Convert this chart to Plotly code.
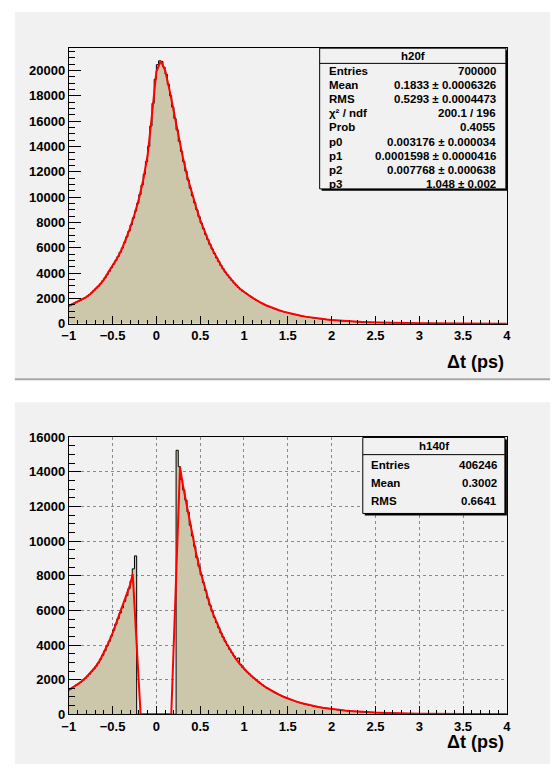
import numpy as np
import plotly.graph_objects as go

W, H = 554, 772

# ---------------- data ----------------
bin_lo, bin_hi, n_bins = -1.0, 4.0, 200

h20f_counts = [
    1450, 1530, 1620, 1700, 1770, 1850, 1960, 2050, 2170, 2300, 2450, 2620, 2790, 2950, 3150, 3380, 3600, 3870, 4140, 4420,
    4700, 4980, 5300, 5640, 5980, 6400, 6850, 7300, 7800, 8350, 8900, 9500, 10200, 10950, 11800, 12800, 14000, 15600, 17400, 19300,
    20450, 20750, 20700, 20250, 19700, 18900, 18000, 17100, 16200, 15300, 14400, 13600, 12800, 12050, 11350, 10700, 10100, 9550, 9000, 8450,
    7950, 7500, 7050, 6650, 6250, 5900, 5550, 5200, 4900, 4600, 4330, 4080, 3850, 3630, 3420, 3220, 3040, 2860, 2700, 2550,
    2450, 2330, 2210, 2090, 1980, 1870, 1770, 1680, 1590, 1500, 1420, 1350, 1280, 1210, 1150, 1090, 1030, 980, 930, 880,
    835, 790, 750, 710, 675, 640, 605, 575, 545, 515, 490, 465, 440, 418, 396, 375, 356, 337, 320, 303,
    287, 272, 258, 245, 232, 220, 208, 197, 187, 177, 168, 159, 151, 143, 135, 128, 121, 115, 109, 103,
    98, 93, 88, 83, 79, 75, 71, 67, 64, 60, 57, 54, 51, 49, 46, 44, 41, 39, 37, 35,
    33, 31, 30, 28, 27, 25, 24, 23, 21, 20, 19, 18, 17, 16, 15, 15, 14, 13, 12, 12,
    11, 11, 10, 10, 9, 9, 8, 8, 7, 7, 7, 6, 6, 6, 5, 5, 5, 5, 4, 4,
]

h140f_counts = [
    1430, 1520, 1600, 1680, 1760, 1860, 1960, 2080, 2200, 2320, 2470, 2620, 2780, 2960, 3180, 3410, 3660, 3950, 4220, 4520,
    4850, 5200, 5520, 5850, 6150, 6520, 6850, 7250, 7700, 8400, 9150,
    0, 0, 0, 0, 0, 0, 0, 0, 0, 0, 0, 0, 0, 0, 0, 0, 0, 0,
    15250,
    14300, 13560, 12960, 12370, 11680, 10920, 10300, 9700, 9050, 8550,
    8050, 7600, 7150, 6700, 6300, 5950, 5600, 5300, 5000, 4700, 4450, 4200, 3980, 3750, 3560, 3370, 3200, 3250, 2880, 2700,
    2560, 2440, 2320, 2200, 2090, 1980, 1880, 1780, 1690, 1600, 1520, 1440, 1360, 1290, 1220, 1160, 1100, 1040, 985, 935, 885,
    840, 795, 752, 712, 673, 637, 602, 570, 539, 510, 482, 456, 431, 408, 386, 365, 345, 326, 309, 292,
    276, 261, 247, 233, 220, 208, 197, 186, 176, 166, 157, 149, 141, 133, 126, 119, 112, 106, 100, 95,
    90, 85, 80, 76, 72, 68, 64, 61, 57, 54, 51, 48, 46, 43, 41, 39, 37, 35, 33,
    31, 29, 28, 26, 25, 23, 22, 21, 20, 19, 18, 17, 16, 15, 14, 13, 13, 12, 11, 11,
    10, 10, 9, 9, 8, 8, 7, 7, 7, 6, 6, 6, 5, 5, 5, 5, 4, 4, 4, 4,
]

# fit curve of h20f, sampled every 0.05 from -1 to 4
fit_top_x = np.round(np.linspace(-1.0, 4.0, 101), 3)
fit_top_y = [
    1400, 1560, 1730, 1890, 2100, 2370, 2700, 3050, 3480, 4000, 4560, 5140, 5800, 6620, 7550, 8620, 9850, 11350, 13300, 16500,
    19900, 20750, 20000, 18450, 16650, 14850, 13200, 11700, 10400, 9270, 8200, 7270, 6450, 5720, 5050, 4460, 3960, 3520, 3130, 2780,
    2500, 2270, 2035, 1820, 1635, 1460, 1315, 1180, 1060, 955, 858, 770, 692, 622, 560, 502, 452, 407, 365, 328,
    295, 265, 238, 214, 192, 172, 155, 139, 124, 112, 100, 90, 81, 73, 65, 58, 52, 47, 42, 38,
    34, 30, 27, 25, 22, 20, 18, 16, 14, 13, 12, 10, 10, 9, 8, 7, 6, 6, 5, 5, 4,
]

# fit curve of h140f
fit_bot_x = np.concatenate([
    np.round(np.linspace(-1.0, -0.3, 15), 3),
    [-0.27, -0.18, 0.17, 0.27],
    np.round(np.linspace(0.3, 4.0, 75), 3),
])
fit_bot_y = [
    1400, 1560, 1720, 1910, 2140, 2395, 2700, 3070, 3535, 4085, 4685, 5360, 6000, 6685, 7475,
    8100, 0, 0, 14300,
    13300, 12025, 10610, 9375, 8300, 7375, 6500, 5775, 5150, 4575,
    4090, 3655, 3250, 2920, 2630, 2380, 2145, 1930, 1735, 1560,
    1400, 1255, 1130, 1012, 910, 818, 732, 655, 586, 524,
    469, 420, 375, 336, 300, 268, 240, 214, 192, 171,
    153, 137, 122, 109, 98, 88, 78, 70, 62, 56,
    50, 44, 40, 36, 32, 28, 26, 22, 20, 18,
    16, 14, 13, 12, 10, 10, 8, 8, 7, 6,
    6, 5, 4, 4, 4,
]

x_title = "Δt (ps)"

h20f_name = "h20f"
h20f_stat_names = ["Entries", "Mean", "RMS", "χ² / ndf", "Prob", "p0", "p1", "p2", "p3"]
h20f_stat_values = ["700000", "0.1833 ± 0.0006326", "0.5293 ± 0.0004473", "200.1 / 196", "0.4055",
                    "0.003176 ± 0.000034", "0.0001598 ± 0.0000416", "0.007768 ± 0.000638", "1.048 ± 0.002"]

h140f_name = "h140f"
h140f_stat_names = ["Entries", "Mean", "RMS"]
h140f_stat_values = ["406246", "0.3002", "0.6641"]

# ---------------- styling ----------------
PANEL = "#f1f1f1"
FILL = "rgb(204,198,170)"
FONT = "Liberation Sans, Arial, Helvetica, sans-serif"


def fx(p):
    return p / W


def fy(p):
    return 1 - p / H


edges = np.linspace(bin_lo, bin_hi, n_bins + 1)

fig = go.Figure()


def add_hist(counts, fitx, fity, xa, ya):
    ys = list(counts) + [counts[-1]]
    fig.add_trace(go.Scatter(x=edges, y=ys, mode="lines", line_shape="hv",
                             line=dict(color="black", width=1), fill="tozeroy",
                             fillcolor=FILL, xaxis=xa, yaxis=ya, hoverinfo="skip",
                             showlegend=False))
    fig.add_trace(go.Scatter(x=fitx, y=fity, mode="lines",
                             line=dict(color="#ff0000", width=2),
                             xaxis=xa, yaxis=ya, showlegend=False, hoverinfo="skip"))


add_hist(h20f_counts, fit_top_x, fit_top_y, "x", "y")
add_hist(h140f_counts, fit_bot_x, fit_bot_y, "x2", "y2")

# plot frames in pixels
PX0, PX1 = 63, 510
TOP_Y0, TOP_Y1 = 42, 323
BOT_Y0, BOT_Y1 = 438.6, 721.3

tickfont = dict(family=FONT, size=13, color="black", weight="bold")


def xaxis_cfg(domain, anchor, grid):
    return dict(domain=domain, anchor=anchor, range=[bin_lo, bin_hi], tick0=0, dtick=0.5,
                ticks="inside", ticklen=8, tickwidth=1, tickcolor="black",
                showline=True, mirror=True, linecolor="black", linewidth=1,
                zeroline=False, showgrid=grid, gridcolor="#8a8a8a", griddash="dot", gridwidth=1,
                tickfont=tickfont,
                minor=dict(dtick=0.1, ticks="inside", ticklen=4, tickcolor="black", showgrid=False))


def yaxis_cfg(domain, anchor, ymax, grid):
    return dict(domain=domain, anchor=anchor, range=[0, ymax], tick0=0, dtick=2000,
                tickformat="d",
                ticks="inside", ticklen=12, tickwidth=1, tickcolor="black",
                showline=True, mirror=True, linecolor="black", linewidth=1,
                zeroline=False, showgrid=grid, gridcolor="#8a8a8a", griddash="dot", gridwidth=1,
                tickfont=tickfont,
                minor=dict(dtick=500, ticks="inside", ticklen=6, tickcolor="black", showgrid=False))


xdom = [fx(PX0), fx(PX1)]
fig.update_layout(
    width=W, height=H, autosize=False,
    margin=dict(l=0, r=0, t=0, b=0),
    paper_bgcolor="white", plot_bgcolor=PANEL,
    xaxis=xaxis_cfg(xdom, "y", False),
    yaxis=yaxis_cfg([fy(TOP_Y1), fy(TOP_Y0)], "x", 21750, False),
    xaxis2=xaxis_cfg(xdom, "y2", True),
    yaxis2=yaxis_cfg([fy(BOT_Y1), fy(BOT_Y0)], "x2", 16012, True),
)

shapes = []
# pad backgrounds
shapes.append(dict(type="rect", xref="paper", yref="paper", x0=fx(8), x1=fx(554), y0=fy(380), y1=fy(5),
                   fillcolor=PANEL, line=dict(width=0), layer="below"))
shapes.append(dict(type="line", xref="paper", yref="paper", x0=fx(8), x1=fx(554), y0=fy(379.5), y1=fy(379.5),
                   line=dict(color="#a8a8a8", width=2), layer="below"))
shapes.append(dict(type="rect", xref="paper", yref="paper", x0=fx(8), x1=fx(554), y0=fy(772), y1=fy(403),
                   fillcolor=PANEL, line=dict(width=0), layer="below"))

annotations = []


def stats_box(x0, x1, y0, y1, ysep, name, yname, names, values, yrows, xl, xr):
    shapes.append(dict(type="rect", xref="paper", yref="paper", x0=fx(x0 + 2), x1=fx(x1 + 2),
                       y0=fy(y1 + 2), y1=fy(y0 + 2), fillcolor="black", line=dict(width=0)))
    shapes.append(dict(type="rect", xref="paper", yref="paper", x0=fx(x0), x1=fx(x1),
                       y0=fy(y1), y1=fy(y0), fillcolor=PANEL, line=dict(color="black", width=1)))
    shapes.append(dict(type="line", xref="paper", yref="paper", x0=fx(x0), x1=fx(x1),
                       y0=fy(ysep), y1=fy(ysep), line=dict(color="black", width=1)))
    f = dict(family=FONT, size=11.5, color="black", weight="bold")
    annotations.append(dict(xref="paper", yref="paper", x=fx((x0 + x1) / 2), y=fy(yname), text=name,
                            showarrow=False, xanchor="center", yanchor="middle", font=f))
    for n, v, yy in zip(names, values, yrows):
        annotations.append(dict(xref="paper", yref="paper", x=fx(xl), y=fy(yy), text=n, showarrow=False,
                                xanchor="left", yanchor="middle", font=f))
        annotations.append(dict(xref="paper", yref="paper", x=fx(xr), y=fy(yy), text=v, showarrow=False,
                                xanchor="right", yanchor="middle", font=f))


stats_box(319, 509, 42, 185.5, 57.5, h20f_name, 50, h20f_stat_names, h20f_stat_values,
          [65 + 14.46 * i for i in range(9)], 326, 501)
stats_box(363, 508, 439, 516.5, 456.5, h140f_name, 448, h140f_stat_names, h140f_stat_values,
          [467.5, 485.7, 504], 369, 502)

for ty in (362, 750):
    annotations.append(dict(xref="paper", yref="paper", x=fx(509), y=fy(ty), text=x_title, showarrow=False,
                            xanchor="right", yanchor="middle",
                            font=dict(family=FONT, size=18, color="black", weight="bold")))

fig.update_layout(shapes=shapes, annotations=annotations)
fig.write_html("out.html",
               config={"displayModeBar": False},
               post_script="document.body.style.margin='0';document.body.style.overflow='hidden';")
